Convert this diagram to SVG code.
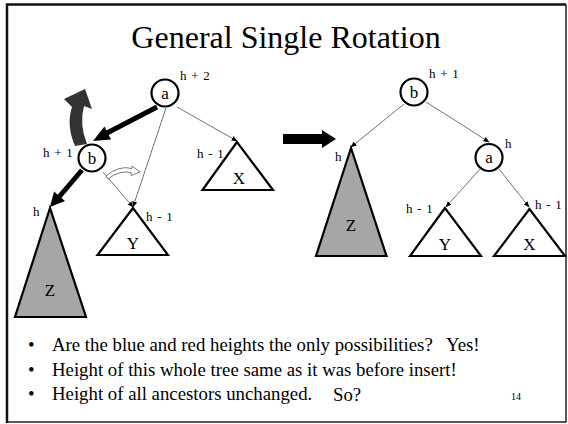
<svg xmlns="http://www.w3.org/2000/svg" width="568" height="424" viewBox="0 0 568 424">
<defs>
<style>
.t{font-family:"Liberation Serif","Times New Roman",serif;fill:#000}
.lbl{font-size:13px;word-spacing:1.5px}
.nd{font-size:17px;text-anchor:middle}
.tl{font-size:17px;text-anchor:middle}
.tri{stroke:#000;stroke-width:2.2;stroke-linejoin:miter}
.circ{fill:#fff;stroke:#000;stroke-width:2.2}
.thin{stroke:#333;stroke-width:0.7;fill:none}
.thick{stroke:#000;stroke-width:5;fill:none}
.bul{font-size:18.8px}
</style>
<marker id="sm" viewBox="0 0 6 6" refX="5.5" refY="3" markerWidth="6" markerHeight="6" markerUnits="userSpaceOnUse" orient="auto">
<path d="M0,0.5 L6,3 L0,5.5 Z" fill="#000"/>
</marker>
</defs>
<rect width="568" height="424" fill="#fff"/>
<g id="frame">
<path d="M7,423 V4.5 H566" fill="none" stroke="#111" stroke-width="2.5"/>
<path d="M566,4.5 V422 H7" fill="none" stroke="#222" stroke-width="1.5"/>
</g>
<text class="t" x="286" y="48" font-size="32" text-anchor="middle">General Single Rotation</text>
<g id="connectors">
<line class="thick" x1="157" y1="107" x2="107" y2="133"/>
<polygon points="93,141 104.5,126.5 111,139.5" fill="#000"/>
<line class="thick" x1="82" y1="170" x2="59" y2="197"/>
<polygon points="50,207 54,191.5 65,201" fill="#000"/>
<line class="thin" x1="177" y1="107" x2="237" y2="141" marker-end="url(#sm)"/>
<line class="thin" x1="166" y1="108" x2="133" y2="207" marker-end="url(#sm)"/>
<line class="thin" x1="103" y1="172" x2="133" y2="207" marker-end="url(#sm)"/>
<line class="thin" x1="404" y1="104" x2="351" y2="147" marker-end="url(#sm)"/>
<line class="thin" x1="426" y1="102" x2="489" y2="142" marker-end="url(#sm)"/>
<line class="thin" x1="480" y1="169" x2="446" y2="207" marker-end="url(#sm)"/>
<line class="thin" x1="499" y1="169" x2="529" y2="207" marker-end="url(#sm)"/>
<path d="M75,146 Q66,125 72,107 L64,99 L85,89 L92,109 L84,106 Q79,124 87,144 Z" fill="#333"/>
<path d="M106,176 Q119,165 132,168.5 L132,166 L140,172 L131,175.5 L131,172.5 Q119,170 108,179 Z" fill="#fff" stroke="#555" stroke-width="0.8"/>
<polygon points="283,134 322,134 322,130 336,139 322,148 322,144 283,144" fill="#000"/>
</g>
<g id="node-a-left">
<circle class="circ" cx="165" cy="93" r="13.5"/>
<text class="t nd" x="165" y="98.5">a</text>
<text class="t lbl" x="180" y="80">h + 2</text>
</g>
<g id="node-b-left">
<circle class="circ" cx="92" cy="158" r="13.5"/>
<text class="t nd" x="92" y="164">b</text>
<text class="t lbl" x="43" y="157">h + 1</text>
</g>
<g id="tree-Z-left">
<polygon class="tri" points="50,208 15,317 86,317" fill="#a6a6a6"/>
<text class="t tl" x="50" y="296">Z</text>
<text class="t lbl" x="33" y="216">h</text>
</g>
<g id="tree-Y-left">
<polygon class="tri" points="133,208 97.5,255 168,255" fill="#fff"/>
<text class="t tl" x="133" y="249">Y</text>
<text class="t lbl" x="146" y="221">h - 1</text>
</g>
<g id="tree-X-left">
<polygon class="tri" points="237,142 202.5,190 273,190" fill="#fff"/>
<text class="t tl" x="239" y="184">X</text>
<text class="t lbl" x="197" y="158">h - 1</text>
</g>
<g id="node-b-right">
<circle class="circ" cx="414" cy="92" r="13.5"/>
<text class="t nd" x="414" y="98">b</text>
<text class="t lbl" x="429" y="78">h + 1</text>
</g>
<g id="node-a-right">
<circle class="circ" cx="489" cy="157.5" r="13.5"/>
<text class="t nd" x="489" y="163">a</text>
<text class="t lbl" x="505" y="148">h</text>
</g>
<g id="tree-Z-right">
<polygon class="tri" points="351,148 316,256 386.5,256" fill="#a6a6a6"/>
<text class="t tl" x="351" y="231">Z</text>
<text class="t lbl" x="335" y="161">h</text>
</g>
<g id="tree-Y-right">
<polygon class="tri" points="445,208 410,256 481,256" fill="#fff"/>
<text class="t tl" x="445" y="250">Y</text>
<text class="t lbl" x="406" y="213">h - 1</text>
</g>
<g id="tree-X-right">
<polygon class="tri" points="529.5,209 494,256 565,256" fill="#fff"/>
<text class="t tl" x="529.5" y="250">X</text>
<text class="t lbl" x="535" y="209">h - 1</text>
</g>
<g id="bullets">
<text class="t bul" x="28" y="351">•</text>
<text class="t bul" x="52" y="351">Are the blue and red heights the only possibilities?</text>
<text class="t bul" x="446" y="351">Yes!</text>
<text class="t bul" x="28" y="376">•</text>
<text class="t bul" x="52" y="376">Height of this whole tree same as it was before insert!</text>
<text class="t bul" x="28" y="400">•</text>
<text class="t bul" x="52" y="400">Height of all ancestors unchanged.</text>
<text class="t bul" x="333" y="401">So?</text>
<text class="t" x="511" y="400" font-size="10">14</text>
</g>
</svg>
